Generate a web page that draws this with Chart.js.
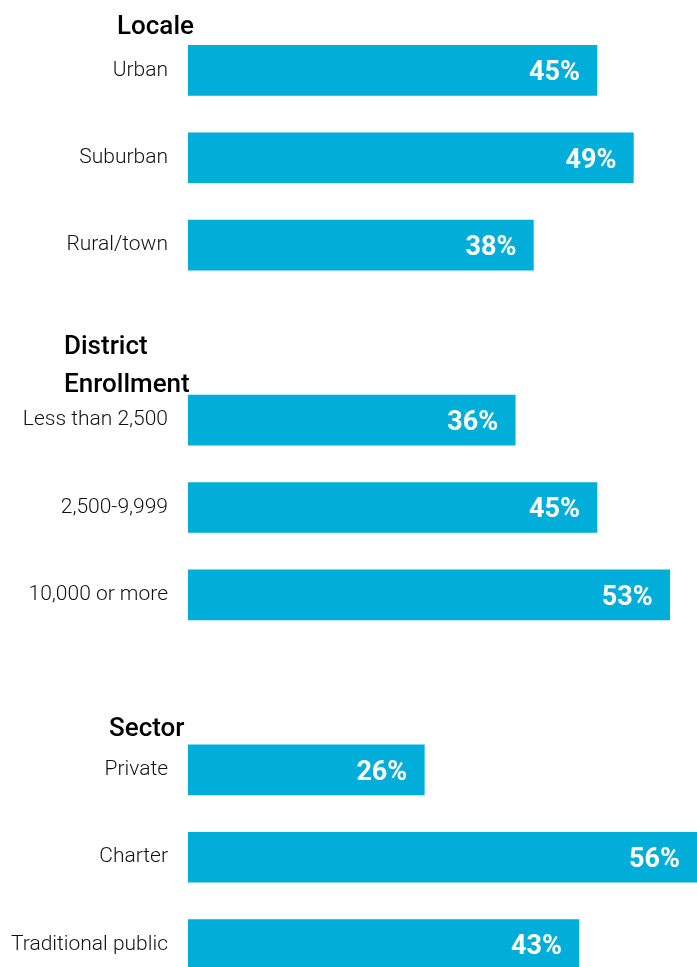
<!DOCTYPE html>
<html>
<head>
<meta charset="utf-8">
<script src="https://cdn.jsdelivr.net/npm/chart.js@4"></script>
<style>
    html, body { margin: 0; padding: 0; background: #fff; overflow: hidden; }
    #wrap { width: 697px; height: 1027px; position: relative; top: -6px; }
</style>
</head>
<body>
<div id="wrap"><canvas id="chart"></canvas></div>
<script>
// categories (blank slots separate the groups)
const categories = ['Urban', 'Suburban', 'Rural/town', '', 'Less than 2,500', '2,500-9,999', '10,000 or more', '', 'Private', 'Charter', 'Traditional public'];
const values = [45, 49, 38, null, 36, 45, 53, null, 26, 56, 43];
const groupTitles = ['Locale', 'District\nEnrollment', 'Sector'];
const groupTitleSlots = [-0.41, 3.25, 7.61];
const groupTitleX = [117, 64, 109];

const barColor = '#00AED9';

// draws the group headings next to the axis
const groupTitlePlugin = {
    id: 'groupTitles',
    afterDraw(chart) {
        const ctx = chart.ctx;
        const y = chart.scales.y;
        ctx.save();
        ctx.fillStyle = '#000';
        ctx.font = '500 26px Roboto';
        ctx.textAlign = 'left';
        ctx.textBaseline = 'alphabetic';
        groupTitles.forEach(function (t, i) {
            const lines = t.split('\n');
            const base = y.getPixelForValue(groupTitleSlots[i]);
            lines.forEach(function (line, j) {
                ctx.fillText(line, groupTitleX[i], base + j * 38);
            });
        });
        ctx.restore();
    }
};

// white percentage inside the bar end
const valueLabelPlugin = {
    id: 'valueLabels',
    afterDatasetsDraw(chart) {
        const ctx = chart.ctx;
        const meta = chart.getDatasetMeta(0);
        ctx.save();
        ctx.fillStyle = '#fff';
        ctx.font = 'bold 27px Roboto';
        ctx.textAlign = 'right';
        ctx.textBaseline = 'middle';
        meta.data.forEach(function (bar, i) {
            if (values[i] == null) return;
            ctx.fillText(values[i] + '%', bar.x - 17, bar.y + 3);
        });
        ctx.restore();
    }
};

new Chart(document.getElementById('chart').getContext('2d'), {
    type: 'bar',
    data: {
        labels: categories,
        datasets: [{
            data: values,
            backgroundColor: barColor,
            borderWidth: 0,
            barThickness: 50
        }]
    },
    options: {
        indexAxis: 'y',
        responsive: true,
        maintainAspectRatio: false,
        animation: false,
        events: [],
        layout: { padding: { top: 12, right: 0, bottom: 0, left: 0 } },
        plugins: {
            legend: { display: false },
            tooltip: { enabled: false }
        },
        scales: {
            x: {
                display: false,
                min: 0,
                max: 56
            },
            y: {
                grid: { display: false, drawTicks: false },
                border: { display: false },
                afterFit(scale) { scale.width = 188; },
                ticks: {
                    padding: 20,
                    color: '#111',
                    font: { family: 'Roboto', size: 21, weight: '300' }
                }
            }
        }
    },
    plugins: [groupTitlePlugin, valueLabelPlugin]
});
</script>
</body>
</html>
